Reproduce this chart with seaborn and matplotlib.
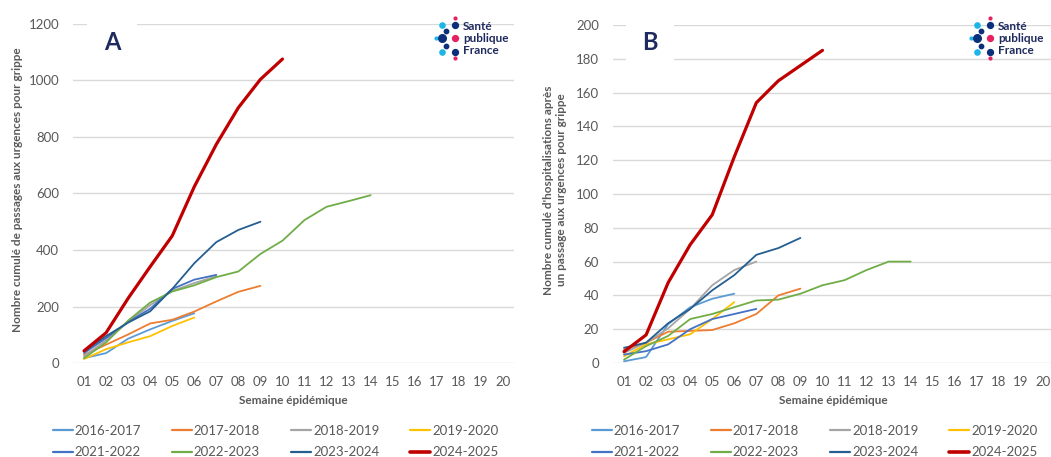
# %%
# === Cumul grippe : passages aux urgences (A) et hospitalisations (B) ===
import pandas as pd
import matplotlib.pyplot as plt
from matplotlib.lines import Line2D
import seaborn as sns

# === 1. DONNEES ===
saisons = ["2016-2017", "2017-2018", "2018-2019", "2019-2020",
           "2021-2022", "2022-2023", "2023-2024", "2024-2025"]
couleurs = ["#5B9BD5", "#ED7D31", "#A5A5A5", "#FFC000",
            "#4472C4", "#70AD47", "#255E91", "#C00000"]
epaisseurs = [1.3, 1.3, 1.3, 1.3, 1.3, 1.3, 1.3, 2.3]
semaines_labels = [f"{i:02d}" for i in range(1, 21)]

# A : passages aux urgences pour grippe (cumul)
a_1617 = [17, 35, 86, 119, 149, 176]
a_1718 = [29, 65, 101, 140, 153, 182, 218, 252, 273]
a_1819 = [24, 80, 145, 205, 255, 283, 307]
a_1920 = [14, 49, 73, 95, 131, 161]
a_2122 = [35, 88, 145, 192, 262, 295, 312]
a_2223 = [17, 73, 150, 214, 253, 275, 304, 324, 386, 433, 506, 553, 573, 594]
a_2324 = [41, 95, 143, 183, 262, 353, 428, 471, 500]
a_2425 = [43, 107, 229, 341, 450, 624, 774, 904, 1004, 1076]

# B : hospitalisations après passage aux urgences pour grippe (cumul)
b_1617 = [1, 3.5, 23, 33, 38, 41]
b_1718 = [8, 12, 18.5, 19, 19.5, 23.5, 29, 40, 44]
b_1819 = [6, 12, 20.5, 32, 46, 55, 60]
b_1920 = [4, 11, 14, 17, 26, 36]
b_2122 = [5, 7, 11, 20, 26, 29, 32]
b_2223 = [2, 10, 16, 26, 29, 33, 37, 37.5, 41, 46, 49, 55, 60, 60]
b_2324 = [9, 12, 23.5, 32, 43, 52, 64, 68, 74]
b_2425 = [6.7, 16.6, 47.5, 70, 87.7, 122, 154, 167, 176, 185]

series_a = [a_1617, a_1718, a_1819, a_1920, a_2122, a_2223, a_2324, a_2425]
series_b = [b_1617, b_1718, b_1819, b_1920, b_2122, b_2223, b_2324, b_2425]


def to_long(series):
    rows = []
    for saison, vals in zip(saisons, series):
        for i, v in enumerate(vals):
            rows.append({"semaine": i + 1, "cumul": v, "saison": saison})
    return pd.DataFrame(rows)


df_a = to_long(series_a)
df_b = to_long(series_b)

# === 2. STYLE ===
sns.set_theme(style="white")
plt.rcParams["font.family"] = ["Lato", "DejaVu Sans"]

W, H = 1051, 457
fig = plt.figure(figsize=(W / 100, H / 100), dpi=100)

palette = dict(zip(saisons, couleurs))
sizes = dict(zip(saisons, epaisseurs))
gris = "#595959"
navy = "#1F2A5E"


def px(x, y):
    return x / W, 1 - y / H


def style_axe(ax, ymax, ystep):
    ax.set_xlim(0.5, 20.5)
    ax.set_ylim(0, ymax)
    ax.set_xticks(range(1, 21))
    ax.set_xticklabels(semaines_labels)
    ax.set_yticks(range(0, ymax + 1, ystep))
    ax.grid(axis="y", color="#D9D9D9", lw=1)
    ax.set_axisbelow(True)
    for s in ax.spines.values():
        s.set_visible(False)
    ax.tick_params(axis="both", length=0, labelsize=9.5, labelcolor=gris)
    ax.tick_params(axis="x", pad=9)
    ax.tick_params(axis="y", pad=10)
    ax.set_xlabel("")
    ax.set_ylabel("")


def draw_logo(x0):
    # petit logo Santé publique France (décor)
    dots = [(x0 + 13, 18, "#E6215F", 4), (x0, 25, "#1BB5E8", 14), (x0 + 13, 25, "#0B2F7A", 18),
            (x0 + 4, 31, "#0B2F7A", 10), (x0 - 6, 38, "#1BB5E8", 4), (x0, 38, "#0B2F7A", 30),
            (x0 + 13, 38, "#E6215F", 18), (x0 + 4, 46, "#0B2F7A", 10),
            (x0, 52, "#1BB5E8", 14), (x0 + 13, 52, "#0B2F7A", 18), (x0 + 13, 58, "#E6215F", 4)]
    for dx, dy, c, s in dots:
        fig.add_artist(Line2D([dx / W], [1 - dy / H], marker="o", ms=s ** 0.5,
                              color=c, lw=0, transform=fig.transFigure))
    for txt, yy in [("Santé", 26), ("publique", 38), ("France", 50)]:
        fig.text(*px(x0 + 21, yy), txt, fontsize=8.5, fontweight="bold",
                 color=navy, ha="left", va="center")


# === 3. PANNEAU A ===
ax_a = fig.add_axes([73 / W, 1 - 363 / H, 441 / W, 339 / H])
sns.lineplot(data=df_a, x="semaine", y="cumul", hue="saison", size="saison",
             hue_order=saisons, size_order=saisons, palette=palette, sizes=sizes,
             estimator=None, errorbar=None, legend=False, ax=ax_a)
style_axe(ax_a, 1200, 200)
ax_a.text(0.5 + 39 / 22.05, 1200 - 19 / 0.2825, "A", fontsize=17, fontweight="bold",
          color=navy, ha="center", va="center",
          bbox=dict(boxstyle="square,pad=0.7", fc="white", ec="none"))

# === 4. PANNEAU B ===
ax_b = fig.add_axes([613 / W, 1 - 363 / H, 441 / W, 338 / H])
sns.lineplot(data=df_b, x="semaine", y="cumul", hue="saison", size="saison",
             hue_order=saisons, size_order=saisons, palette=palette, sizes=sizes,
             estimator=None, errorbar=None, legend=False, ax=ax_b)
style_axe(ax_b, 200, 20)
ax_b.text(0.5 + 37 / 22.05, 200 - 18 / 1.69, "B", fontsize=17, fontweight="bold",
          color=navy, ha="center", va="center",
          bbox=dict(boxstyle="square,pad=0.7", fc="white", ec="none"))

# === 5. TITRES D'AXES ===
fig.text(*px(18, 190), "Nombre cumulé de passages aux urgences pour grippe",
         rotation=90, ha="center", va="center", fontsize=8.5, fontweight="bold", color=gris)
fig.text(*px(555, 190), "Nombre cumulé d'hospitalisations après\nun passage aux urgences pour grippe",
         rotation=90, ha="center", va="center", fontsize=8.5, fontweight="bold", color=gris,
         linespacing=1.15, multialignment="center")
fig.text(*px(293, 401), "Semaine épidémique", ha="center", va="center",
         fontsize=8.5, fontweight="bold", color=gris)
fig.text(*px(833, 401), "Semaine épidémique", ha="center", va="center",
         fontsize=8.5, fontweight="bold", color=gris)

draw_logo(442)
draw_logo(977)

# === 6. LEGENDES (ordre ligne par ligne) ===
handles = [Line2D([], [], color=c, lw=2.6 if s == "2024-2025" else 1.6)
           for s, c in zip(saisons, couleurs)]
order = [0, 4, 1, 5, 2, 6, 3, 7]
for x0 in (53, 592):
    fig.legend([handles[i] for i in order], [saisons[i] for i in order],
               loc="upper left", bbox_to_anchor=px(x0, 425), ncol=4, frameon=False,
               fontsize=9.5, handlelength=1.5, handletextpad=0.15, columnspacing=2.35,
               labelspacing=0.7, borderpad=0, borderaxespad=0, labelcolor=gris)

fig.savefig("out.png", dpi=100)
